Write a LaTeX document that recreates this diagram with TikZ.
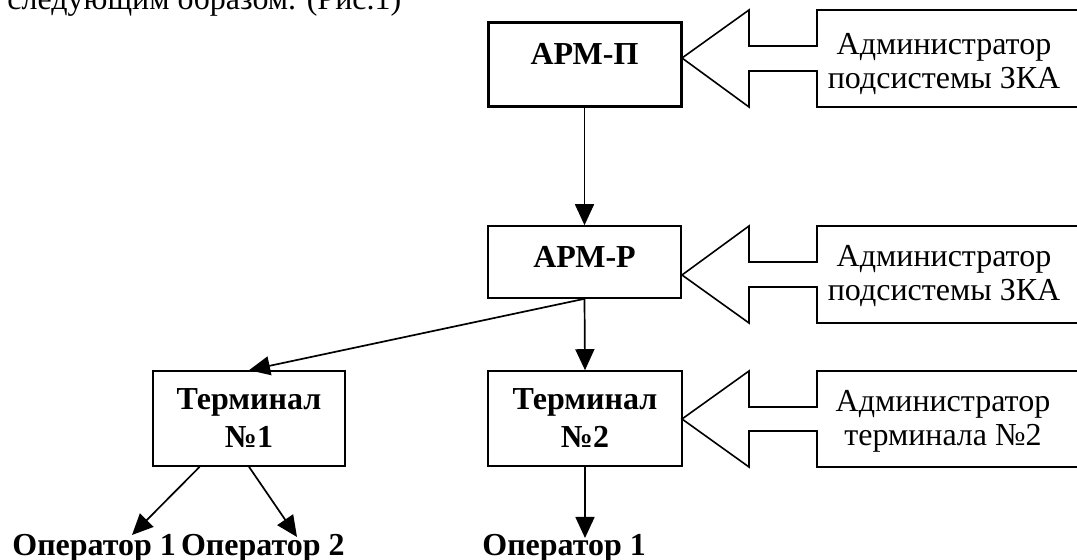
\documentclass[tikz,border=0pt]{standalone}
\usepackage{fontspec}
\setmainfont{Liberation Serif}
\usetikzlibrary{arrows.meta,calc}
\begin{document}
\begin{tikzpicture}[x=0.5pt,y=-0.5pt,
  every node/.style={font=\fontsize{16}{17}\selectfont},
  box/.style={draw, line width=0.8pt, inner sep=0pt, minimum width=96.5pt,
    font=\fontsize{16}{19}\selectfont\bfseries},
  conn/.style={line width=0.85pt, -{Triangle[length=10.5pt,width=9.5pt]}},
  adm/.style={align=center, inner sep=0pt, font=\fontsize{16}{17}\selectfont},
  oper/.style={inner sep=0pt, font=\fontsize{16}{19}\selectfont\bfseries},
  outline/.style={draw, line width=0.8pt, line join=miter}]
\useasboundingbox (0,0) rectangle (1077,560);
\clip (0,0) rectangle (1077,560);

% partial line of running text at the top
\node[anchor=base west, inner sep=0pt] (intro) at (7,10) {следующим образом. (Рис.1)};

% main boxes
\node[box, line width=1.5pt, text height=21pt, text depth=21pt, anchor=base] (apmp) at (584.5,65) {АРМ-П};
\node[box, text height=21pt, text depth=15pt, anchor=base] (apmr) at (584.5,268) {АРМ-Р};
\node[box, align=center, minimum width=96pt, minimum height=47.5pt] (t1) at (249,418.5) {Терминал\\№1};
\node[box, align=center, minimum width=97pt, minimum height=47.5pt] (t2) at (585,418.5) {Терминал\\№2};

% operators
\node[oper, anchor=base west] (op1) at (12,556) {Оператор 1};
\node[oper, anchor=base east] (op2) at (345,556) {Оператор 2};
\node[oper, anchor=base west] (op3) at (482,556) {Оператор 1};
\coordinate (op1tip) at (132,535);
\coordinate (op2tip) at (297,537);
\coordinate (op3tip) at (585,538);

% administrators
\node[adm] (a1) at (944,64.5) {Администратор\\подсистемы ЗКА};
\node[adm] (a2) at (944,276.5) {Администратор\\подсистемы ЗКА};
\node[adm] (a3) at (943,421.5) {Администратор\\терминала №2};

\coordinate (tip1) at (682,58);
\coordinate (tip2) at (682,275);
\coordinate (tip3) at (682,419);

\draw[outline] (817,46) -- (749,46) -- (749,10) -- (tip1) -- (749,107) -- (749,71)
  -- (817,71) -- (817,107) -- (1085,107) -- (1085,10) -- (817,10) -- cycle;
\draw[outline] (817,262) -- (749,262) -- (749,226) -- (tip2) -- (749,323) -- (749,287)
  -- (817,287) -- (817,323) -- (1085,323) -- (1085,226) -- (817,226) -- cycle;
\draw[outline] (817,407) -- (749,407) -- (749,371) -- (tip3) -- (749,467) -- (749,431)
  -- (817,431) -- (817,467) -- (1085,467) -- (1085,371) -- (817,371) -- cycle;

% connectors
\draw[conn] (apmp.south) -- (apmr.north);
\draw[conn] (apmr.south) -- (t1.north);
\draw[conn] (apmr.south) -- (t2.north);
\draw[conn] ($(t1.south west)!0.245!(t1.south east)$) -- (op1tip);
\draw[conn] (t1.south) -- (op2tip);
\draw[conn] (t2.south) -- (op3tip);
\end{tikzpicture}
\end{document}
